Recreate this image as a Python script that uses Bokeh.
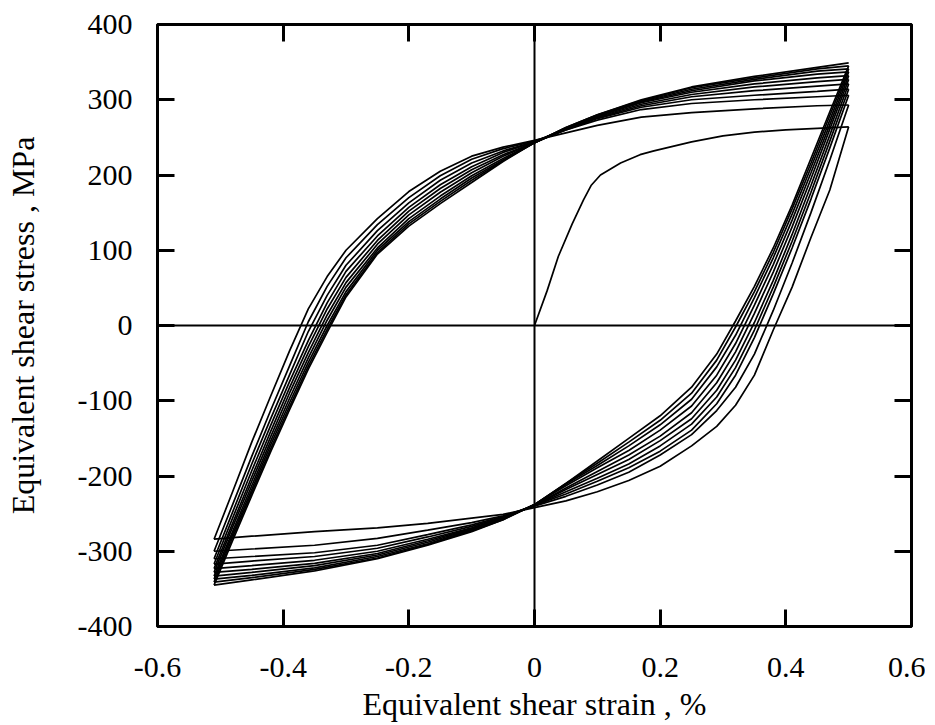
from bokeh.plotting import figure
from bokeh.models import Range1d, FixedTicker, LinearAxis, Span
from bokeh.embed import file_html
from bokeh.resources import INLINE

# ---------------- data ----------------
x_ticks = [-0.6, -0.4, -0.2, 0, 0.2, 0.4, 0.6]
x_tick_labels = ["-0.6", "-0.4", "-0.2", "0", "0.2", "0.4", "0.6"]
y_ticks = [-400, -300, -200, -100, 0, 100, 200, 300, 400]
y_tick_labels = ["-400", "-300", "-200", "-100", "0", "100", "200", "300", "400"]

# initial (monotonic) loading curve
init_strain = [0, 0.02, 0.038, 0.06, 0.078, 0.09, 0.105, 0.137, 0.168, 0.19, 0.25, 0.3, 0.35, 0.4, 0.45, 0.5]
init_stress = [0, 46, 92, 135, 167, 186, 200, 216, 227, 232, 244, 252, 257, 260, 262, 264]

# strain positions at which the reloading branches (-0.51 -> +0.5) were read
asc_strain = [-0.51, -0.48, -0.45, -0.42, -0.39, -0.36, -0.33, -0.30, -0.25, -0.20, -0.15,
              -0.10, -0.05, 0, 0.05, 0.10, 0.17, 0.25, 0.35, 0.45, 0.50]
asc1 = [-284, -220, -155, -94, -34, 22, 65, 100, 142, 178, 205, 225, 237, 246, 256, 266, 277, 283, 288, 292, 293]
asc2 = [-300, -237, -174, -113, -54, 5, 52, 90, 134, 170, 199, 221, 235, 245, 260, 273, 287, 295, 300, 304, 306]
asc3 = [-310, -247, -184, -124, -66, -8, 40, 80, 126, 163, 193, 216, 232, 244, 260, 275, 290, 300, 306, 311, 314]
asc4 = [-317, -255, -193, -133, -75, -20, 30, 72, 119, 157, 187, 211, 230, 244, 261, 276, 292, 304, 312, 318, 321]
asc5 = [-323, -262, -201, -141, -83, -28, 22, 64, 113, 152, 182, 207, 227, 243, 261, 277, 294, 307, 317, 324, 327]
asc6 = [-328, -267, -207, -148, -90, -36, 14, 57, 108, 147, 177, 203, 225, 243, 261, 278, 296, 310, 321, 329, 332]
asc7 = [-333, -273, -213, -154, -97, -43, 7, 51, 103, 142, 172, 199, 222, 243, 262, 279, 297, 312, 325, 334, 337]
asc8 = [-337, -277, -218, -159, -103, -49, 0, 45, 100, 138, 168, 196, 220, 243, 262, 279, 298, 314, 327, 338, 341]
asc9 = [-341, -281, -222, -164, -108, -54, -5, 41, 97, 135, 165, 193, 219, 243, 263, 280, 299, 316, 329, 341, 345]
asc10 = [-345, -285, -226, -168, -112, -58, -9, 38, 95, 132, 162, 190, 218, 243, 263, 280, 300, 317, 331, 343, 349]

# strain positions at which the unloading branches (+0.5 -> -0.51) were read
desc_strain = [0.50, 0.47, 0.44, 0.41, 0.38, 0.35, 0.32, 0.29, 0.25, 0.20, 0.15,
               0.10, 0.05, 0, -0.05, -0.10, -0.17, -0.25, -0.35, -0.45, -0.51]
desc0 = [264, 180, 117, 51, -6, -66, -106, -134, -160, -187, -206, -221, -233, -242, -251, -256, -263, -269, -274, -280, -284]
desc1 = [293, 220, 150, 83, 20, -38, -82, -113, -145, -172, -195, -212, -227, -240, -253, -262, -272, -283, -292, -297, -300]
desc2 = [306, 236, 168, 103, 42, -16, -66, -104, -139, -167, -189, -207, -224, -239, -254, -265, -278, -292, -302, -307, -310]
desc3 = [314, 245, 177, 112, 51, -6, -56, -95, -131, -160, -184, -203, -221, -239, -255, -267, -281, -296, -307, -313, -317]
desc4 = [321, 253, 186, 121, 60, 4, -46, -86, -124, -153, -178, -198, -218, -239, -256, -269, -284, -300, -312, -319, -323]
desc5 = [327, 261, 195, 131, 71, 16, -35, -76, -116, -147, -172, -194, -216, -239, -256, -270, -286, -303, -316, -324, -328]
desc6 = [332, 267, 203, 140, 81, 27, -24, -66, -107, -139, -166, -189, -213, -238, -257, -271, -288, -305, -319, -328, -333]
desc7 = [337, 273, 210, 148, 90, 37, -13, -55, -98, -132, -160, -186, -211, -238, -257, -272, -290, -307, -322, -332, -337]
desc8 = [341, 279, 216, 155, 97, 45, -2, -46, -90, -126, -155, -183, -210, -238, -258, -273, -291, -309, -324, -335, -341]
desc9 = [345, 284, 222, 160, 103, 52, 6, -38, -82, -120, -150, -180, -210, -238, -258, -274, -292, -310, -326, -338, -345]

asc_branches = [asc1, asc2, asc3, asc4, asc5, asc6, asc7, asc8, asc9, asc10]
desc_branches = [desc0, desc1, desc2, desc3, desc4, desc5, desc6, desc7, desc8, desc9]

x_title = "Equivalent shear strain , %"
y_title = "Equivalent shear stress , MPa"

# ---------------- figure ----------------
FONT = "Liberation Serif"

p = figure(width=925, height=724,
           x_range=Range1d(-0.6, 0.6), y_range=Range1d(-400, 400),
           output_backend="svg", toolbar_location=None,
           min_border_left=157, min_border_right=14,
           min_border_top=24, min_border_bottom=96)
p.background_fill_color = "white"
p.border_fill_color = "white"
p.grid.visible = False
p.outline_line_color = "black"
p.outline_line_width = 3

# zero lines
p.add_layout(Span(location=0, dimension="width", line_color="black", line_width=2))
p.add_layout(Span(location=0, dimension="height", line_color="black", line_width=2))

# curves
p.line(init_strain, init_stress, line_color="black", line_width=1.7)
for i in range(len(desc_branches)):
    p.line(desc_strain, desc_branches[i], line_color="black", line_width=1.7)
    p.line(asc_strain, asc_branches[i], line_color="black", line_width=1.7)

def style_axis(ax, ticks, labels, show_labels):
    ax.ticker = FixedTicker(ticks=ticks)
    ax.major_label_overrides = {t: l for t, l in zip(ticks, labels)}
    ax.major_tick_in = 17
    ax.major_tick_out = 0
    ax.major_tick_line_width = 3
    ax.major_tick_line_color = "black"
    ax.minor_tick_line_color = None
    ax.axis_line_color = None
    ax.major_label_text_font = FONT
    if show_labels:
        ax.major_label_text_color = "black"
        ax.major_label_text_font_size = "30px"
    else:
        ax.major_label_text_color = None
        ax.major_label_text_font_size = "1px"
        ax.major_label_standoff = 0

style_axis(p.xaxis[0], x_ticks, x_tick_labels, True)
style_axis(p.yaxis[0], y_ticks, y_tick_labels, True)
p.xaxis[0].major_label_standoff = 31
p.yaxis[0].major_label_standoff = 25

p.xaxis[0].axis_label = x_title
p.yaxis[0].axis_label = y_title
for ax in (p.xaxis[0], p.yaxis[0]):
    ax.axis_label_text_font = FONT
    ax.axis_label_text_font_size = "32px"
    ax.axis_label_text_font_style = "normal"
    ax.axis_label_text_color = "black"
p.xaxis[0].axis_label_standoff = 6
p.yaxis[0].axis_label_standoff = 34

top_ax = LinearAxis()
right_ax = LinearAxis()
p.add_layout(top_ax, "above")
p.add_layout(right_ax, "right")
style_axis(top_ax, x_ticks, x_tick_labels, False)
style_axis(right_ax, y_ticks, y_tick_labels, False)

open("out.html", "w").write(file_html(p, INLINE))
